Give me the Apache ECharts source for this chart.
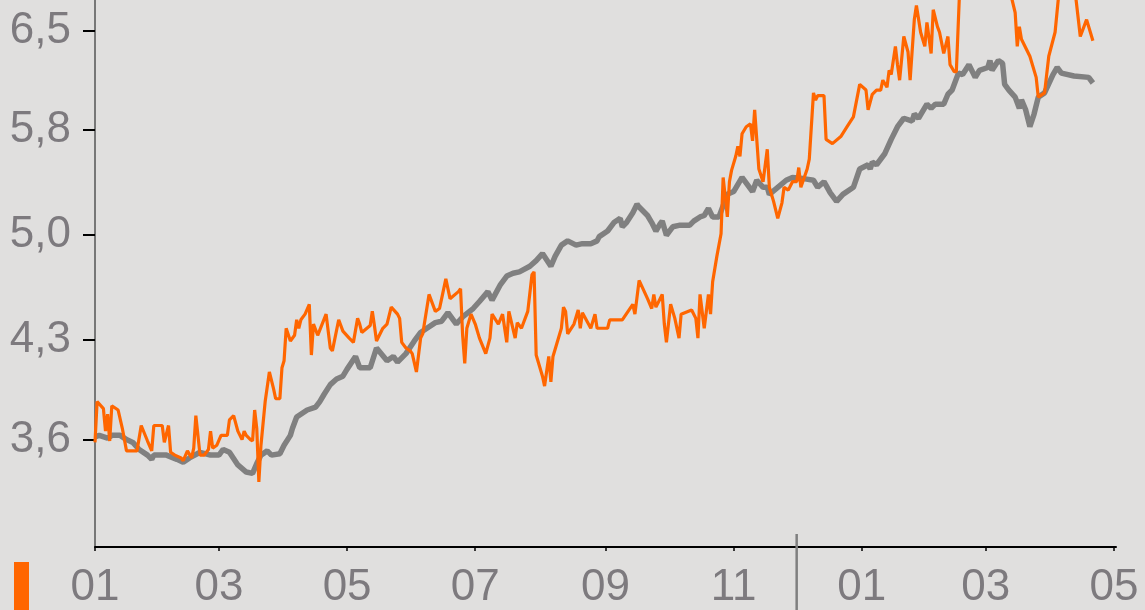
<!DOCTYPE html>
<html>
<head>
<meta charset="utf-8">
<script src="https://cdn.jsdelivr.net/npm/echarts@6/dist/echarts.min.js"></script>
<style>
html,body{margin:0;padding:0;background:#e0dfde;}
#chart{width:1145px;height:610px;}
</style>
</head>
<body>
<div id="chart"></div>
<script>
// Day offsets from 1 January of the first year
const greyDays = [0,2,6,8,12,15,18,21,25,27,28,34,39,42,45,50,55,59,61,64,68,72,75,77,79,82,84,88,90,93,94,96,101,105,107,109,112,115,118,120,124,126,131,134,139,142,144,148,152,155,158,162,165,168,172,175,180,183,187,189,193,196,199,202,207,210,213,217,219,222,225,229,232,236,239,240,244,247,250,251,253,256,258,259,263,265,267,269,270,272,275,278,283,285,288,290,292,294,297,301,304,308,313,315,318,320,321,325,329,332,338,342,344,347,350,353,356,361,364,368,369,370,372,376,379,382,385,389,390,392,396,398,400,404,406,408,411,413,416,419,421,425,426,427,430,432,433,435,438,440,441,443,445,447,449,452,456,458,460,466,473,475];
const greyValues = [3.62,3.63,3.61,3.63,3.63,3.60,3.58,3.53,3.49,3.46,3.49,3.49,3.46,3.44,3.47,3.51,3.49,3.49,3.53,3.51,3.42,3.37,3.36,3.43,3.49,3.52,3.49,3.50,3.56,3.63,3.68,3.76,3.81,3.83,3.87,3.92,3.99,4.03,4.05,4.10,4.19,4.11,4.11,4.25,4.16,4.19,4.15,4.21,4.30,4.36,4.39,4.43,4.44,4.50,4.42,4.47,4.53,4.58,4.65,4.59,4.70,4.76,4.78,4.79,4.83,4.87,4.92,4.83,4.90,4.98,5.01,4.98,4.99,4.99,5.01,5.04,5.08,5.14,5.17,5.11,5.14,5.21,5.27,5.25,5.19,5.14,5.08,5.13,5.15,5.05,5.11,5.12,5.12,5.15,5.18,5.19,5.24,5.18,5.18,5.34,5.36,5.46,5.36,5.44,5.39,5.39,5.34,5.39,5.44,5.46,5.45,5.44,5.39,5.43,5.35,5.29,5.34,5.39,5.52,5.55,5.52,5.57,5.55,5.63,5.73,5.82,5.88,5.86,5.91,5.88,5.98,5.95,5.98,5.98,6.05,6.08,6.20,6.19,6.26,6.17,6.22,6.24,6.29,6.22,6.29,6.27,6.12,6.08,6.03,5.95,6.01,5.94,5.82,5.91,6.03,6.06,6.19,6.24,6.20,6.18,6.17,6.13];

const orangeDays = [0,1,4,5,6,7,8,11,13,15,20,22,25,27,28,32,33,35,36,38,41,42,44,46,47,48,50,52,54,55,56,58,60,63,64,66,68,70,71,72,74,75,76,77,78,79,81,83,85,86,88,89,90,91,93,95,96,97,98,100,102,103,104,106,110,112,113,116,118,121,123,125,126,127,131,132,133,134,137,139,141,144,145,146,148,150,151,153,155,156,159,162,164,165,167,169,173,174,175,176,177,179,181,183,186,188,189,192,194,196,197,200,201,203,206,208,209,210,213,214,216,217,218,222,223,224,225,228,230,231,232,236,238,239,244,245,251,256,257,259,263,265,266,267,270,271,272,274,276,278,279,284,286,287,288,290,292,293,294,296,298,299,301,302,303,305,306,307,308,310,312,313,314,315,316,318,320,321,323,325,327,328,330,332,334,335,336,339,340,342,343,344,347,348,351,355,358,361,364,367,368,370,372,374,375,377,378,379,381,382,383,385,387,388,390,391,393,395,396,398,399,401,402,404,406,407,409,410,412,419,426,432,438,439,440,441,445,448,449,452,454,457,460,465,469,472,475];
const orangeValues = [3.58,3.87,3.82,3.66,3.78,3.59,3.84,3.81,3.68,3.52,3.52,3.70,3.59,3.52,3.70,3.70,3.58,3.70,3.51,3.49,3.47,3.45,3.52,3.47,3.54,3.77,3.49,3.49,3.53,3.66,3.54,3.56,3.63,3.63,3.74,3.77,3.66,3.60,3.66,3.63,3.60,3.59,3.81,3.68,3.30,3.56,3.87,4.08,3.96,3.89,3.89,4.11,4.16,4.39,4.30,4.34,4.45,4.39,4.45,4.49,4.56,4.20,4.42,4.34,4.49,4.25,4.23,4.45,4.37,4.32,4.29,4.46,4.42,4.36,4.41,4.51,4.41,4.30,4.39,4.42,4.54,4.49,4.46,4.29,4.25,4.23,4.21,4.08,4.32,4.35,4.63,4.51,4.53,4.60,4.74,4.60,4.65,4.67,4.34,4.14,4.39,4.49,4.42,4.32,4.21,4.32,4.49,4.42,4.49,4.29,4.51,4.32,4.43,4.39,4.51,4.77,4.79,4.20,4.05,3.98,4.19,4.01,4.19,4.39,4.54,4.51,4.35,4.42,4.52,4.39,4.50,4.39,4.49,4.39,4.39,4.45,4.45,4.56,4.49,4.73,4.60,4.53,4.63,4.54,4.63,4.42,4.29,4.56,4.46,4.32,4.49,4.52,4.46,4.32,4.63,4.39,4.63,4.49,4.72,4.90,5.06,5.46,5.18,5.43,5.51,5.61,5.68,5.61,5.77,5.82,5.84,5.72,5.94,5.73,5.52,5.43,5.66,5.39,5.29,5.17,5.28,5.39,5.37,5.43,5.43,5.53,5.39,5.52,5.59,6.06,6.01,6.04,6.04,5.73,5.70,5.75,5.82,5.89,6.12,6.08,5.94,6.05,6.08,6.08,6.15,6.10,6.22,6.19,6.39,6.26,6.15,6.46,6.35,6.15,6.58,6.68,6.49,6.39,6.56,6.34,6.65,6.53,6.49,6.34,6.46,6.26,6.21,6.21,6.95,7.05,7.00,7.00,6.63,6.39,6.53,6.44,6.32,6.17,6.03,6.06,6.32,6.49,6.95,6.98,6.46,6.58,6.43];

const yTickValues = [3.6, 4.31, 5.05, 5.8, 6.5];
const yTickLabels = ['3,6', '4,3', '5,0', '5,8', '6,5'];
// Month starts (day offsets): Jan, Mar, May, Jul, Sep, Nov, Jan, Mar, May
const xTickDays = [0, 59, 120, 181, 243, 304, 365, 424, 485];
const xTickLabels = ['01', '03', '05', '07', '09', '11', '01', '03', '05'];
const yearBreakDay = 334; // 1 December
const xMaxDay = 486;

const greyData = greyDays.map((d, i) => [d, greyValues[i]]);
const orangeData = orangeDays.map((d, i) => [d, orangeValues[i]]);

const labelColor = '#7d7a7e';
const chart = echarts.init(document.getElementById('chart'), null, {renderer: 'canvas'});
const option = {
  backgroundColor: '#e0dfde',
  animation: false,
  grid: {left: 95, right: 29, top: 0, bottom: 48, containLabel: false},
  xAxis: {
    type: 'value',
    min: 0,
    max: xMaxDay,
    axisLine: {show: true, lineStyle: {color: '#000', width: 2}},
    axisTick: {show: true, customValues: xTickDays, length: 4, lineStyle: {color: '#000', width: 1.5}},
    axisLabel: {
      customValues: xTickDays,
      formatter: v => { const i = xTickDays.indexOf(v); return i >= 0 ? xTickLabels[i] : ''; },
      fontSize: 44, color: labelColor, fontFamily: 'Liberation Sans', margin: 19,
      hideOverlap: false, showMinLabel: true, showMaxLabel: true
    },
    splitLine: {show: false}
  },
  yAxis: {
    type: 'value',
    min: 2.838,
    max: 6.719,
    axisLine: {show: true, lineStyle: {color: '#555', width: 1.5}},
    axisTick: {show: true, customValues: yTickValues, length: 12, lineStyle: {color: '#000', width: 2}},
    axisLabel: {
      customValues: yTickValues,
      formatter: v => { const i = yTickValues.indexOf(v); return i >= 0 ? yTickLabels[i] : ''; },
      fontSize: 44, color: labelColor, fontFamily: 'Liberation Sans', margin: 24,
      padding: [0, 0, 9, 0]
    },
    splitLine: {show: false}
  },
  series: [
    {
      name: 'grey', type: 'line', data: greyData, symbol: 'none', showSymbol: false,
      lineStyle: {color: '#808080', width: 5.5}, clip: true, z: 2
    },
    {
      name: 'orange', type: 'line', data: orangeData, symbol: 'none', showSymbol: false,
      lineStyle: {color: '#ff6600', width: 3.2}, clip: true, z: 3
    }
  ]
};
chart.setOption(option);

const breakX = chart.convertToPixel({xAxisIndex: 0}, yearBreakDay);
chart.setOption({
  graphic: [
    {type: 'line', shape: {x1: breakX, y1: 534, x2: breakX, y2: 610}, style: {stroke: '#7f7f7f', lineWidth: 2.5}, z: 10},
    {type: 'rect', shape: {x: 14, y: 562, width: 15, height: 48}, style: {fill: '#ff6600'}, z: 10}
  ]
});
</script>
</body>
</html>
